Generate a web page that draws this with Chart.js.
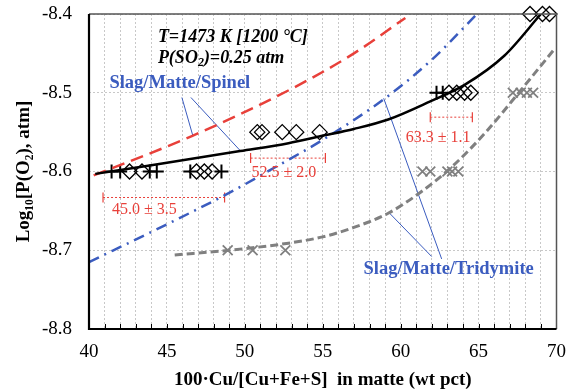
<!DOCTYPE html>
<html>
<head>
<meta charset="utf-8">
<script src="https://cdn.jsdelivr.net/npm/chart.js@4"></script>
<style>
  html, body { margin: 0; padding: 0; background: #fff; }
  #wrap { width: 578px; height: 391px; }
</style>
</head>
<body>
<div id="wrap"><canvas id="phaseChart" width="578" height="391"></canvas></div>
<script>
// measured points (x = 100·Cu/[Cu+Fe+S], y = log10 P(O2))
const plusX = [41.45, 42.0, 43.9, 44.35, 46.5, 48.5, 62.3, 62.7];
const plusY = [-8.6, -8.6, -8.6, -8.6, -8.6, -8.6, -8.5, -8.5];

const diamondX = [42.6, 43.4, 46.9, 47.4, 47.9, 50.8, 51.1, 52.4, 53.3, 54.8, 63.1, 63.6, 64.1, 64.5, 68.3, 69.1, 69.55];
const diamondY = [-8.6, -8.6, -8.6, -8.6, -8.6, -8.55, -8.55, -8.55, -8.55, -8.55, -8.5, -8.5, -8.5, -8.5, -8.4, -8.4, -8.4];

const crossX = [48.9, 50.5, 52.6, 61.4, 61.9, 63.0, 63.3, 63.7, 67.2, 67.7, 68.1, 68.5];
const crossY = [-8.7, -8.7, -8.7, -8.6, -8.6, -8.6, -8.6, -8.6, -8.5, -8.5, -8.5, -8.5];

// calculated boundaries
const matteX = [40.4, 44.0, 49.7, 52.8, 54.9, 57.0, 59.2, 61.9, 64.1, 66.65, 69.0];
const matteY = [-8.603, -8.592, -8.574, -8.564, -8.555, -8.546, -8.534, -8.511, -8.490, -8.453, -8.400];

const spinelX = [40.3, 46.6, 52.9, 57.0, 60.3];
const spinelY = [-8.605, -8.555, -8.496, -8.450, -8.405];

const spinel2X = [40.0, 44.6, 49.2, 52.0, 54.9, 59.0, 62.0, 64.9];
const spinel2Y = [-8.715, -8.671, -8.625, -8.594, -8.561, -8.507, -8.458, -8.400];

const tridX = [45.5, 49.0, 52.8, 55.0, 57.0, 59.2, 61.3, 63.4, 65.6, 67.7, 69.85];
const tridY = [-8.706, -8.700, -8.691, -8.683, -8.671, -8.653, -8.626, -8.592, -8.547, -8.497, -8.445];

// average matte grades (left end, right end, y)
const errLabels = ['45.0 \u00b1 3.5', '52.5 \u00b1 2.0', '63.3 \u00b1 1.1'];
const errLow = [40.9, 50.37, 61.9];
const errHigh = [48.7, 55.17, 64.6];
const errY = [-8.633, -8.583, -8.531];
const errLabelX = [43.56, 52.5, 62.4];
const errLabelY = [-8.648, -8.602, -8.557];

const xTicks = [40, 45, 50, 55, 60, 65, 70];
const yTicks = [-8.8, -8.7, -8.6, -8.5, -8.4];

function pts(xs, ys) {
    return xs.map((x, i) => ({ x: x, y: ys[i] }));
}

const blue = '#3b5cbf';
const red = '#e8403a';

const datasets = [
    { data: pts(matteX, matteY), showLine: true, borderColor: '#000', borderWidth: 2.5, pointRadius: 0, cubicInterpolationMode: 'monotone' },
    { data: pts(spinelX, spinelY), showLine: true, borderColor: red, borderWidth: 2.5, borderDash: [13, 7], pointRadius: 0, cubicInterpolationMode: 'monotone' },
    { data: pts(spinel2X, spinel2Y), showLine: true, borderColor: blue, borderWidth: 2.5, borderDash: [11, 6, 2, 6], pointRadius: 0, cubicInterpolationMode: 'monotone' },
    { data: pts(tridX, tridY), showLine: true, borderColor: '#808080', borderWidth: 3, borderDash: [8, 4], pointRadius: 0, cubicInterpolationMode: 'monotone' },
    // leader lines for the labels
    { data: [{ x: 45.96, y: -8.506 }, { x: 46.67, y: -8.555 }], showLine: true, borderColor: blue, borderWidth: 1, pointRadius: 0 },
    { data: [{ x: 46.54, y: -8.506 }, { x: 49.68, y: -8.573 }], showLine: true, borderColor: blue, borderWidth: 1, pointRadius: 0 },
    { data: [{ x: 58.91, y: -8.507 }, { x: 62.63, y: -8.711 }], showLine: true, borderColor: blue, borderWidth: 1, pointRadius: 0 },
    { data: [{ x: 59.29, y: -8.653 }, { x: 61.99, y: -8.708 }], showLine: true, borderColor: blue, borderWidth: 1, pointRadius: 0 },
    { data: pts(plusX, plusY), pointStyle: 'cross', pointRadius: 7, borderColor: '#000', pointBorderWidth: 2, clip: false },
    { data: pts(diamondX, diamondY), pointStyle: 'rectRot', pointRadius: 7.5, borderColor: '#000', backgroundColor: 'rgba(0,0,0,0)', pointBorderWidth: 1.3, clip: false },
    { data: pts(crossX, crossY), pointStyle: 'crossRot', pointRadius: 7, borderColor: '#808080', pointBorderWidth: 1.8, clip: false }
];

errLow.forEach((lo, i) => {
    datasets.push({
        data: [{ x: lo, y: errY[i] }, { x: errHigh[i], y: errY[i] }],
        showLine: true, borderColor: red, borderWidth: 1, borderDash: [2, 2],
        pointStyle: 'line', rotation: 90, pointRadius: 5, pointBorderColor: red, pointBorderWidth: 1.2
    });
});

const notes = {
    id: 'notes',
    afterDatasetsDraw(chart) {
        const ctx = chart.ctx;
        const xs = chart.scales.x, ys = chart.scales.y;
        const a = chart.chartArea;
        ctx.save();

        // inward minor ticks on the x axis
        ctx.strokeStyle = '#000';
        ctx.lineWidth = 1;
        for (let v = 41; v < 70; v++) {
            const px = Math.round(xs.getPixelForValue(v)) + 0.5;
            ctx.beginPath();
            ctx.moveTo(px, a.bottom);
            ctx.lineTo(px, a.bottom - 5);
            ctx.stroke();
        }

        // frame
        ctx.strokeStyle = '#555';
        ctx.lineWidth = 1.5;
        ctx.beginPath();
        ctx.moveTo(a.left, a.top);
        ctx.lineTo(a.right, a.top);
        ctx.lineTo(a.right, a.bottom);
        ctx.stroke();
        ctx.strokeStyle = '#000';
        ctx.lineWidth = 2.2;
        ctx.beginPath();
        ctx.moveTo(a.left, a.top);
        ctx.lineTo(a.left, a.bottom);
        ctx.lineTo(a.right, a.bottom);
        ctx.stroke();

        // condition text
        ctx.fillStyle = '#000';
        ctx.textBaseline = 'middle';
        ctx.textAlign = 'left';
        const tx = xs.getPixelForValue(44.42);
        ctx.font = 'italic bold 18px "Liberation Serif"';
        ctx.fillText('T=1473 K [1200 \u00b0C]', tx, ys.getPixelForValue(-8.4294));
        let py = ys.getPixelForValue(-8.4563);
        let w = 0;
        ctx.fillText('P(SO', tx, py);
        w = ctx.measureText('P(SO').width;
        ctx.font = 'italic bold 12px "Liberation Serif"';
        ctx.fillText('2', tx + w, py + 5);
        w += ctx.measureText('2').width;
        ctx.font = 'italic bold 18px "Liberation Serif"';
        ctx.fillText(')=0.25 atm', tx + w, py);

        // phase labels
        ctx.fillStyle = blue;
        ctx.textAlign = 'center';
        ctx.font = 'bold 18.5px "Liberation Serif"';
        ctx.fillText('Slag/Matte/Spinel', xs.getPixelForValue(45.83), ys.getPixelForValue(-8.488));
        ctx.fillText('Slag/Matte/Tridymite', xs.getPixelForValue(63.08), ys.getPixelForValue(-8.7235));

        // average grade labels
        ctx.fillStyle = red;
        ctx.font = '16px "Liberation Serif"';
        errLabels.forEach((t, i) => {
            ctx.fillText(t, xs.getPixelForValue(errLabelX[i]), ys.getPixelForValue(errLabelY[i]));
        });
        ctx.restore();
    }
};

new Chart(document.getElementById('phaseChart').getContext('2d'), {
    type: 'scatter',
    data: { datasets: datasets },
    options: {
        responsive: false,
        animation: false,
        layout: { padding: { top: 14, right: 21, left: 0, bottom: 0 } },
        scales: {
            x: {
                type: 'linear', min: 40, max: 70,
                afterFit: s => { s.height = 62; },
                afterBuildTicks: s => { s.ticks = []; for (let v = 40; v <= 70; v++) s.ticks.push({ value: v }); },
                ticks: {
                    padding: 12, color: '#000', maxRotation: 0, minRotation: 0, autoSkip: false,
                    font: { family: 'Liberation Serif', size: 19 },
                    callback: v => xTicks.includes(v) ? String(v) : ''
                },
                grid: { color: '#c8c8c8', drawTicks: false },
                border: { display: false, dash: [2, 2] },
                title: {
                    display: true, text: '100\u00b7Cu/[Cu+Fe+S]  in matte (wt pct)', color: '#000',
                    font: { family: 'Liberation Serif', size: 19, weight: 'bold' }, padding: { top: 0, bottom: 0 }
                }
            },
            y: {
                type: 'linear', min: -8.8, max: -8.4,
                afterFit: s => { s.width = 89; s.paddingTop = 0; s.paddingBottom = 0; },
                afterBuildTicks: s => { s.ticks = yTicks.map(v => ({ value: v })); },
                ticks: {
                    padding: 17, color: '#000',
                    font: { family: 'Liberation Serif', size: 19 },
                    callback: v => v.toFixed(1)
                },
                grid: { color: '#c8c8c8', drawTicks: false },
                border: { display: false, dash: [2, 2] },
                title: {
                    display: true, text: 'Log\u2081\u2080[P(O\u2082), atm]', color: '#000',
                    font: { family: 'Liberation Serif', size: 19, weight: 'bold' }, padding: { top: 13, bottom: 0 }
                }
            }
        },
        plugins: {
            legend: { display: false },
            tooltip: { enabled: false }
        }
    },
    plugins: [notes]
});
</script>
</body>
</html>
